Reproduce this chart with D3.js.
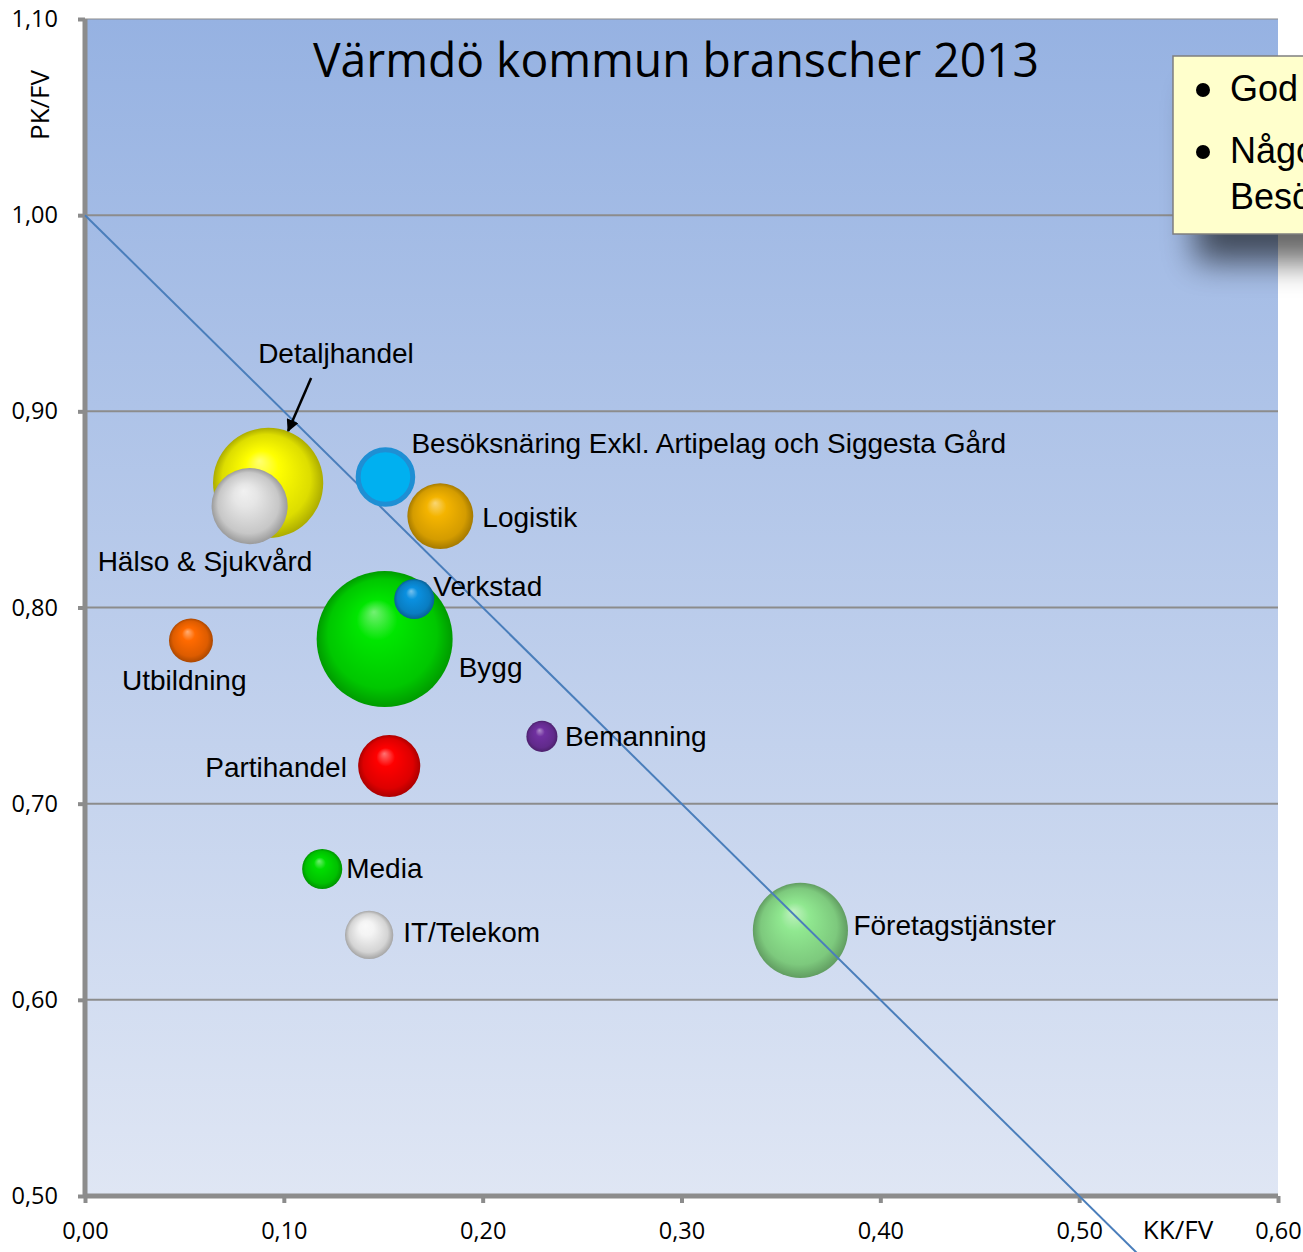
<!DOCTYPE html>
<html lang="sv">
  <head>
    <meta charset="utf-8" />
    <title>Värmdö kommun branscher 2013</title>
    <script src="https://d3js.org/d3.v7.min.js"></script>
    <style>
      body { margin: 0; background: #fff; }
      svg { display: block; }
    </style>
  </head>
  <body>
    <div id="chart"></div>
    <script>
      // Branscher
      const branches = [
        "Detaljhandel", "Hälso & Sjukvård", "Besöksnäring Exkl. Artipelag och Siggesta Gård",
        "Logistik", "Bygg", "Verkstad", "Utbildning", "Partihandel",
        "Bemanning", "Media", "IT/Telekom", "Företagstjänster"
      ];
      const kkfv = [0.0921, 0.0828, 0.1511, 0.1787, 0.1507, 0.1656, 0.0533, 0.1530, 0.2298, 0.1193, 0.1429, 0.3598];
      const pkfv = [0.8635, 0.8517, 0.8665, 0.8466, 0.7839, 0.8043, 0.7832, 0.7192, 0.7343, 0.6667, 0.6331, 0.6354];
      const bubbleSize = [302, 144, 74, 108, 460, 40, 48, 96, 24, 40, 58, 225];

      const xTicks = [0, 0.1, 0.2, 0.3, 0.4, 0.5, 0.6];
      const yTicks = [0.5, 0.6, 0.7, 0.8, 0.9, 1.0, 1.1];
      const diagLine = [[0, 1.0], [0.56, 0.44]];
      const noteLines = [["God"], ["Något", "Besöksnäring"]];

      // colours and label placement (px offsets from the bubble centre)
      const colors = {
        "Detaljhandel": "#ffff00", "Hälso & Sjukvård": "#e6e6e6",
        "Besöksnäring Exkl. Artipelag och Siggesta Gård": "#00b0f0",
        "Logistik": "#f4b400", "Bygg": "#00e600", "Verkstad": "#0a90e0",
        "Utbildning": "#ff6a00", "Partihandel": "#ff0000", "Bemanning": "#7030a0",
        "Media": "#00dd00", "IT/Telekom": "#f4f4f4", "Företagstjänster": "#90e890"
      };
      const labelPos = {
        "Detaljhandel": [-10, -120], "Hälso & Sjukvård": [-152, 65],
        "Besöksnäring Exkl. Artipelag och Siggesta Gård": [26, -24],
        "Logistik": [42, 11], "Bygg": [74, 38], "Verkstad": [19, -3],
        "Utbildning": [-69, 50], "Partihandel": [-184, 11], "Bemanning": [23, 10],
        "Media": [24, 9], "IT/Telekom": [34, 7], "Företagstjänster": [53, 5]
      };

      const W = 1303, H = 1252;
      const plot = { left: 85, right: 1278, top: 19, bottom: 1196 };

      const svg = d3.select("#chart").append("svg")
        .attr("width", W).attr("height", H)
        .style("font-family", "'Liberation Sans', Arial, sans-serif");

      const x = d3.scaleLinear().domain([0, 0.6]).range([plot.left, plot.right]);
      const y = d3.scaleLinear().domain([0.5, 1.1]).range([plot.bottom, plot.top]);
      const r = d3.scaleSqrt().domain([0, d3.max(bubbleSize)]).range([0, 68]);

      const defs = svg.append("defs");
      const bg = defs.append("linearGradient").attr("id", "bg")
        .attr("x1", 0).attr("y1", 0).attr("x2", 0).attr("y2", 1);
      bg.append("stop").attr("offset", "0%").attr("stop-color", "#96b2e2");
      bg.append("stop").attr("offset", "100%").attr("stop-color", "#dfe6f4");

      const shadow = defs.append("filter").attr("id", "shadow")
        .attr("x", "-50%").attr("y", "-50%").attr("width", "200%").attr("height", "200%");
      shadow.append("feGaussianBlur").attr("stdDeviation", 16);

      // one sphere gradient per branch
      branches.forEach((b, i) => {
        const c = d3.color(colors[b]);
        const g = defs.append("radialGradient").attr("id", "sph" + i)
          .attr("cx", 0.5).attr("cy", 0.5).attr("r", 0.5)
          .attr("fx", 0.42).attr("fy", 0.3);
        g.append("stop").attr("offset", "0%").attr("stop-color", d3.interpolateRgb(c, "#fff")(0.45));
        g.append("stop").attr("offset", "30%").attr("stop-color", c.formatHex());
        g.append("stop").attr("offset", "80%").attr("stop-color", c.darker(0.4).formatHex());
        g.append("stop").attr("offset", "100%").attr("stop-color", c.darker(1.1).formatHex());
      });

      defs.append("marker").attr("id", "arrow")
        .attr("viewBox", "0 0 10 10").attr("refX", 9).attr("refY", 5)
        .attr("markerWidth", 5).attr("markerHeight", 5).attr("orient", "auto")
        .append("path").attr("d", "M0,0 L10,5 L0,10 z").attr("fill", "#000");

      // plot area
      svg.append("rect")
        .attr("x", plot.left).attr("y", plot.top)
        .attr("width", plot.right - plot.left).attr("height", plot.bottom - plot.top)
        .attr("fill", "url(#bg)");

      // gridlines
      svg.append("g").selectAll("line").data(yTicks.slice(1)).join("line")
        .attr("x1", plot.left).attr("x2", plot.right)
        .attr("y1", d => y(d)).attr("y2", d => y(d))
        .attr("stroke", "#8c8c8c").attr("stroke-width", d => d === 1.1 ? 1.2 : 2);

      // axes
      const fmt = d => d3.format(".2f")(d).replace(".", ",");
      const yAxis = svg.append("g").attr("transform", `translate(${plot.left},0)`)
        .call(d3.axisLeft(y).tickValues(yTicks).tickSize(7).tickPadding(20).tickFormat(fmt));
      const xAxis = svg.append("g").attr("transform", `translate(0,${plot.bottom})`)
        .call(d3.axisBottom(x).tickValues(xTicks).tickSize(7).tickPadding(19).tickFormat(fmt));
      [xAxis, yAxis].forEach(a => {
        a.select(".domain").attr("stroke", "#8c8c8c").attr("stroke-width", 5);
        a.selectAll(".tick line").attr("stroke", "#8c8c8c").attr("stroke-width", 4);
        a.selectAll(".tick text").attr("fill", "#000")
          .style("font-family", "'Open Sans', sans-serif").style("font-size", "23.5px");
      });
      xAxis.select(".domain").attr("d", `M${plot.left},0H${plot.right}`);
      yAxis.select(".domain").attr("d", `M0,${plot.bottom + 2}V${plot.top}`);

      // axis titles
      svg.append("text").attr("transform", `translate(49,${105}) rotate(-90)`)
        .attr("text-anchor", "middle").style("font-family", "'Open Sans', sans-serif")
        .style("font-size", "26px").text("PK/FV");
      svg.append("text").attr("x", 1178).attr("y", 1239)
        .attr("text-anchor", "middle").style("font-family", "'Open Sans', sans-serif")
        .style("font-size", "26px").text("KK/FV");

      // title
      svg.append("text").attr("x", 676).attr("y", 77)
        .attr("text-anchor", "middle").style("font-family", "'Open Sans', sans-serif")
        .style("font-size", "48px").attr("textLength", 726).attr("lengthAdjust", "spacingAndGlyphs")
        .text("Värmdö kommun branscher 2013");

      const data = branches.map((b, i) => ({ name: b, x: kkfv[i], y: pkfv[i], s: bubbleSize[i], i }));
      const flat = "Besöksnäring Exkl. Artipelag och Siggesta Gård";

      function drawBubble(d) {
        const c = svg.append("circle")
          .attr("cx", x(d.x)).attr("cy", y(d.y)).attr("r", r(d.s));
        if (d.name === flat) {
          c.attr("fill", colors[d.name]).attr("stroke", "#1e8fd4").attr("stroke-width", 5);
        } else {
          c.attr("fill", `url(#sph${d.i})`);
        }
      }
      data.filter(d => d.name !== flat).forEach(drawBubble);

      // reference line PK/FV + KK/FV = 1
      svg.append("line")
        .attr("x1", x(diagLine[0][0])).attr("y1", y(diagLine[0][1]))
        .attr("x2", x(diagLine[1][0])).attr("y2", y(diagLine[1][1]))
        .attr("stroke", "#4a7ebb").attr("stroke-width", 2);

      data.filter(d => d.name === flat).forEach(drawBubble);

      // labels
      svg.append("g").selectAll("text").data(data).join("text")
        .attr("x", d => x(d.x) + labelPos[d.name][0])
        .attr("y", d => y(d.y) + labelPos[d.name][1])
        .style("font-size", "28px").attr("fill", "#000")
        .text(d => d.name);

      // arrow to Detaljhandel
      const det = data[0];
      svg.append("line")
        .attr("x1", x(det.x) + 43).attr("y1", y(det.y) - 105)
        .attr("x2", x(det.x) + 20).attr("y2", y(det.y) - 52)
        .attr("stroke", "#000").attr("stroke-width", 2.5)
        .attr("marker-end", "url(#arrow)");

      // note box (cut off at the right edge, as in the original)
      svg.append("rect").attr("x", 1195).attr("y", 90).attr("width", 300).attr("height", 172)
        .attr("fill", "#000").attr("opacity", 0.6).attr("filter", "url(#shadow)");
      svg.append("rect").attr("x", 1173).attr("y", 56).attr("width", 200).attr("height", 178)
        .attr("fill", "#ffffcc").attr("stroke", "#7f7f7f").attr("stroke-width", 1.5);
      let ly = 101;
      noteLines.forEach(lines => {
        svg.append("circle").attr("cx", 1203).attr("cy", ly - 11).attr("r", 7).attr("fill", "#000");
        lines.forEach(t => {
          svg.append("text").attr("x", 1230).attr("y", ly)
            .style("font-size", "36px").attr("fill", "#000").text(t);
          ly += 46;
        });
        ly += 16;
      });
    </script>
  </body>
</html>
